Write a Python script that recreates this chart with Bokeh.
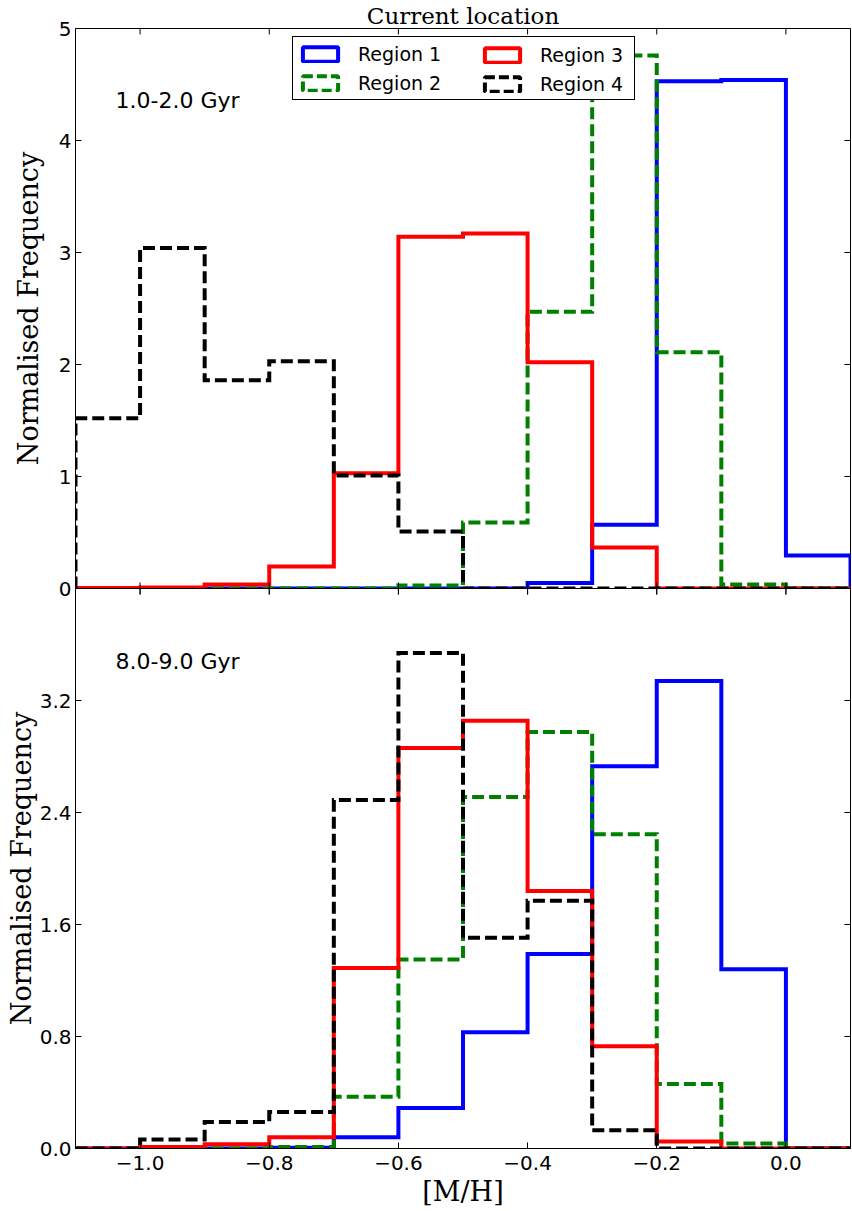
import math
from bokeh.plotting import figure
from bokeh.models import (Label, Legend, LegendItem, FixedTicker,
                          PrintfTickFormatter, Range1d)
from bokeh.layouts import column
from bokeh.embed import file_html
from bokeh.resources import INLINE

# ---------------- data ----------------
bin_edges = [-1.1, -1.0, -0.9, -0.8, -0.7, -0.6, -0.5, -0.4, -0.3, -0.2, -0.1, 0.0, 0.1]

region_names = ["Region 1", "Region 2", "Region 3", "Region 4"]
region_colors = ["#0000ff", "#008000", "#ff0000", "#000000"]
region_dashed = [False, True, False, True]

# 1.0-2.0 Gyr
young_region1 = [0, 0, 0, 0, 0, 0, 0, 0.05, 0.57, 4.53, 4.54, 0.295]
young_region2 = [0, 0, 0, 0, 0, 0.027, 0.59, 2.47, 4.76, 2.11, 0.035, 0]
young_region3 = [0.005, 0.01, 0.036, 0.196, 1.03, 3.14, 3.17, 2.02, 0.366, 0, 0, 0]
young_region4 = [1.52, 3.04, 1.86, 2.03, 1.01, 0.51, 0, 0, 0, 0, 0, 0]

# 8.0-9.0 Gyr
old_region1 = [0, 0, 0, 0.005, 0.08, 0.29, 0.83, 1.39, 2.73, 3.34, 1.28, 0]
old_region2 = [0, 0, 0, 0.01, 0.37, 1.35, 2.51, 2.975, 2.245, 0.46, 0.035, 0]
old_region3 = [0, 0.01, 0.03, 0.08, 1.29, 2.86, 3.055, 1.84, 0.73, 0.05, 0, 0]
old_region4 = [0, 0.064, 0.19, 0.26, 2.49, 3.54, 1.505, 1.77, 0.13, 0, 0, 0]

x_ticks = [-1.0, -0.8, -0.6, -0.4, -0.2, 0.0]
x_tick_labels = ["\u22121.0", "\u22120.8", "\u22120.6", "\u22120.4", "\u22120.2", "0.0"]
top_y_ticks = [0, 1, 2, 3, 4, 5]
bottom_y_ticks = [0.0, 0.8, 1.6, 2.4, 3.2]

title_text = "Current location"
y_label_text = "Normalised Frequency"
x_label_text = "[M/H]"
top_panel_text = "1.0-2.0 Gyr"
bottom_panel_text = "8.0-9.0 Gyr"

# ---------------- helpers ----------------
SANS = "DejaVu Sans"
SERIF = "DejaVu Serif"
FRAME_W, FRAME_H = 775, 560
TICK_LEN = 6


def step_xy(edges, vals):
    xs = [edges[0]]
    ys = [0]
    for i, v in enumerate(vals):
        xs += [edges[i], edges[i + 1]]
        ys += [v, v]
    xs.append(edges[-1])
    ys.append(0)
    return xs, ys


def style_axis(ax, ticker, standoff):
    ax.ticker = ticker
    ax.major_tick_in = TICK_LEN
    ax.major_tick_out = 0
    ax.minor_tick_in = 0
    ax.minor_tick_out = 0
    ax.minor_tick_line_color = None
    ax.major_tick_line_color = "black"
    ax.axis_line_color = "black"
    ax.major_label_text_font = SANS
    ax.major_label_text_font_size = "20px"
    ax.major_label_text_color = "black"
    ax.major_label_standoff = standoff


def inward_ticks(p, xs, ys, angle):
    p.ray(x=xs, y=ys, length=TICK_LEN, length_units="screen", angle=angle,
          line_color="black", line_width=1)


def make_panel(series, y_max, y_ticks, y_fmt, border_top, border_bottom,
               panel_text, text_y, ylab_standoff, x_range):
    p = figure(frame_width=FRAME_W, frame_height=FRAME_H,
               x_range=x_range, y_range=Range1d(0, y_max),
               output_backend="svg", toolbar_location=None,
               min_border_left=75, min_border_right=2,
               min_border_top=border_top, min_border_bottom=border_bottom)
    p.xgrid.visible = False
    p.ygrid.visible = False
    p.outline_line_color = "black"
    p.background_fill_color = "white"
    p.border_fill_color = "white"

    style_axis(p.xaxis[0], FixedTicker(ticks=x_ticks), 7)
    p.xaxis[0].major_label_overrides = {t: l for t, l in zip(x_ticks, x_tick_labels)}
    style_axis(p.yaxis[0], FixedTicker(ticks=y_ticks), 4)
    if y_fmt is not None:
        p.yaxis[0].formatter = PrintfTickFormatter(format=y_fmt)
    p.yaxis[0].axis_label = y_label_text
    p.yaxis[0].axis_label_text_font = SERIF
    p.yaxis[0].axis_label_text_font_size = "27px"
    p.yaxis[0].axis_label_text_font_style = "normal"
    p.yaxis[0].axis_label_text_color = "black"
    p.yaxis[0].axis_label_standoff = ylab_standoff

    # inward ticks on the top and right edges
    x_lo, x_hi = x_range.start, x_range.end
    inward_ticks(p, x_ticks, [y_max] * len(x_ticks), -math.pi / 2)
    inward_ticks(p, [x_hi] * len(y_ticks), y_ticks, math.pi)

    for vals, col, dashed in zip(series, region_colors, region_dashed):
        xs, ys = step_xy(bin_edges, vals)
        p.line(xs, ys, line_color=col, line_width=4,
               line_dash="12 5" if dashed else "solid", line_join="miter")

    p.add_layout(Label(x=x_lo + 0.062, y=text_y, text=panel_text,
                       text_font=SANS, text_font_size="22px",
                       text_color="black", text_baseline="alphabetic"))
    return p


x_range = Range1d(bin_edges[0], bin_edges[-1])

p1 = make_panel([young_region1, young_region2, young_region3, young_region4],
                5, top_y_ticks, None, 28, 12, top_panel_text, 4.357, 12, x_range)
p2 = make_panel([old_region1, old_region2, old_region3, old_region4],
                4, bottom_y_ticks, "%.1f", 0, 66, bottom_panel_text, 3.478, 0, x_range)

# top panel: hide bottom axis labels, keep inward ticks
p1.xaxis[0].visible = False
inward_ticks(p1, x_ticks, [0] * len(x_ticks), math.pi / 2)
# bottom panel: inward ticks on its top edge
inward_ticks(p2, x_ticks, [4] * len(x_ticks), -math.pi / 2)

# let the top panel's bottom tick label overhang into the bottom panel
p2.margin = (-12, 0, 0, 0)
p2.background_fill_alpha = 0
p2.border_fill_alpha = 0

# title
p1.title.text = title_text
p1.title.align = "center"
p1.title.text_font = SERIF
p1.title.text_font_size = "23px"
p1.title.text_font_style = "normal"
p1.title.text_color = "black"
p1.title.standoff = 0
p1.title.offset = 0

# x label
p2.xaxis[0].axis_label = x_label_text
p2.xaxis[0].axis_label_text_font = SERIF
p2.xaxis[0].axis_label_text_font_size = "27px"
p2.xaxis[0].axis_label_text_font_style = "normal"
p2.xaxis[0].axis_label_text_color = "black"
p2.xaxis[0].axis_label_standoff = 3

# legend proxies (outlined rectangles like matplotlib's step-hist legend)
nan = float("nan")
proxies = []
for col, dashed in zip(region_colors, region_dashed):
    r = p1.quad(left=[nan], right=[nan], top=[nan], bottom=[nan], fill_alpha=0,
                line_color=col, line_width=4,
                line_dash="10 4" if dashed else "solid")
    proxies.append(r)


def make_legend(items, loc, shown, label_width):
    return Legend(items=items, location=loc, margin=0, padding=5, spacing=6,
                  glyph_width=44, glyph_height=18, label_standoff=16,
                  label_height=23, label_width=label_width,
                  label_text_font=SANS, label_text_font_size="19px",
                  label_text_color="black",
                  background_fill_color="white",
                  background_fill_alpha=1.0 if shown else 0.0,
                  border_line_color="black",
                  border_line_alpha=1.0 if shown else 0.0,
                  border_line_width=1)


leg_a = make_legend([LegendItem(label=region_names[0], renderers=[proxies[0]]),
                     LegendItem(label=region_names[1], renderers=[proxies[1]])],
                    (217, 488), True, 271)
leg_b = make_legend([LegendItem(label=region_names[2], renderers=[proxies[2]]),
                     LegendItem(label=region_names[3], renderers=[proxies[3]])],
                    (400, 488), False, 85)
p1.add_layout(leg_a, "center")
p1.add_layout(leg_b, "center")

layout = column(p1, p2, spacing=0)
open("out.html", "w").write(file_html(layout, INLINE))
